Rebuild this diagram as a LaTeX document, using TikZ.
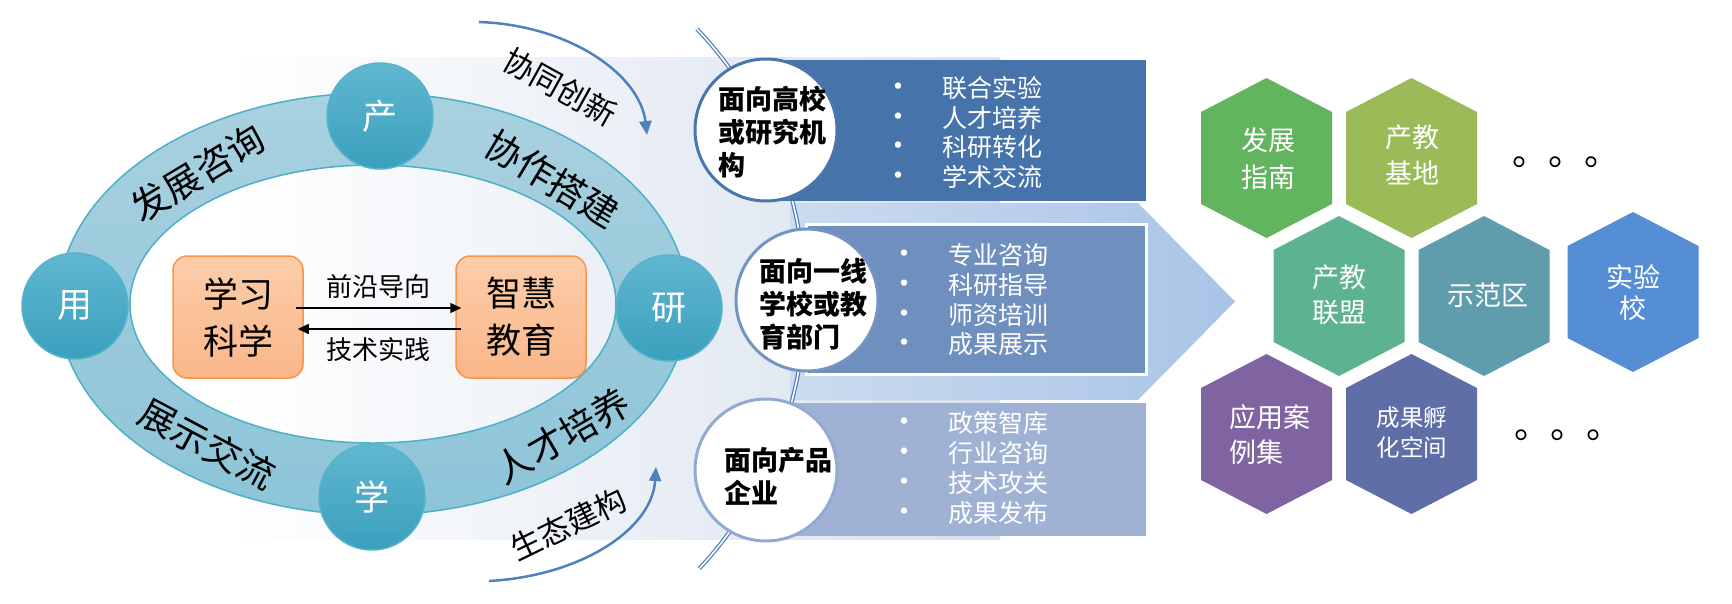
\documentclass[tikz,border=0pt]{standalone}
\usepackage{fontspec}
\setmainfont{Noto Sans CJK SC}
\usepackage{tikz}
\usetikzlibrary{arrows.meta}
\definecolor{ringtop}{HTML}{A9D1E0}
\definecolor{ringbot}{HTML}{8DC4D8}
\definecolor{ringline}{HTML}{4DAFC8}
\definecolor{nodetop}{HTML}{60B7CF}
\definecolor{nodebot}{HTML}{3AA0BE}
\definecolor{nodeline}{HTML}{58B2CB}
\definecolor{coretop}{HTML}{FCCDAA}
\definecolor{corebot}{HTML}{FAB689}
\definecolor{coreline}{HTML}{F79646}
\definecolor{panelright}{HTML}{D8E1EE}
\definecolor{chevleft}{HTML}{CCDBEF}
\definecolor{chevright}{HTML}{A9C4E7}
\definecolor{boxA}{HTML}{4673AA}
\definecolor{boxB}{HTML}{6F90BF}
\definecolor{boxC}{HTML}{9FB2D4}
\definecolor{orgA}{HTML}{4A76AB}
\definecolor{orgB}{HTML}{7494C4}
\definecolor{orgC}{HTML}{93A9D1}
\definecolor{spineblue}{HTML}{4F7CB5}
\definecolor{bendblue}{HTML}{4F81BD}
\definecolor{hexA}{HTML}{62B45E}
\definecolor{hexB}{HTML}{9BBB59}
\definecolor{hexC}{HTML}{5DB28F}
\definecolor{hexD}{HTML}{5F9DAC}
\definecolor{hexE}{HTML}{558ED5}
\definecolor{hexF}{HTML}{8064A2}
\definecolor{hexG}{HTML}{606EA8}
\newcommand{\fsz}[2]{\fontsize{#1}{#2}\selectfont}
\newcommand{\itm}{\llap{\makebox[0pt]{\fsz{30}{30}\textbullet}\hspace{44pt}}}
\newcommand{\hexcell}[3]{\fill[#1] (#2,#3) ++(0,-80) -- ++(65.5,34) -- ++(0,92) -- ++(-65.5,34) -- ++(-65.5,-34) -- ++(0,-92) -- cycle}

\begin{document}
\begin{tikzpicture}[x=1pt,y=-1pt]
\tikzset{ring label/.style={font=\fsz{37}{37}, inner sep=0}}
\tikzstyle{node circle} = [circle, minimum size=106pt, inner sep=0, top color=nodetop, bottom color=nodebot, draw=nodeline, line width=1.5pt, text=white, font=\fsz{35}{35}]
\tikzstyle{core box} = [rectangle, rounded corners=14pt, minimum width=130pt, minimum height=122pt, top color=coretop, bottom color=corebot, draw=coreline, line width=1.5pt, align=center, font=\fsz{35}{47}]
\tikzstyle{flow} = [-{Triangle[length=11pt,width=10pt]}, line width=1.5pt]
\tikzstyle{flow label} = [font=\fsz{26}{26}, inner sep=0]
\tikzstyle{bend arrow} = [-{Triangle[length=14pt,width=12pt]}, line width=2.5pt, draw=bendblue]
\tikzstyle{bend label} = [font=\fsz{31}{31}, inner sep=0]
\tikzstyle{spine} = [draw=spineblue, line width=1.2pt, double=white, double distance=1.6pt]
\tikzstyle{org circle} = [circle, minimum size=142pt, inner sep=0, fill=white, line width=3pt]
\tikzstyle{org text} = [anchor=west, align=left, font=\bfseries\fsz{27}{33}, inner sep=0]
\tikzstyle{list text} = [anchor=west, align=left, text=white, font=\fsz{25}{29.7}, inner sep=0]
\tikzstyle{hex text} = [align=center, text=white, font=\fsz{27}{36}, inner sep=0]
\tikzstyle{dots text} = [anchor=base west, font=\fsz{36}{36}, inner sep=0]
\useasboundingbox (0,0) rectangle (1732,603);

\shade[left color=white, right color=panelright] (230,57) rectangle (1000,539);
\shade[left color=chevleft, right color=chevright] (790,203) -- (1138,203) -- (1235,301.5) -- (1138,400) -- (790,400) -- cycle;
\coordinate (sc) at (411,300);
\draw[spine] (sc) ++(-43.5:394) arc[start angle=-43.5, end angle=43, radius=394];

\fill[boxA] (766,60) rectangle (1146,201);
\draw[white, line width=3pt, fill=boxB] (806,224.5) rectangle (1146.5,374.5);
\fill[boxC] (766,403) rectangle (1146,536);

\node[org circle, draw=orgA] (o1) at (766,130) {};
\node[org circle, draw=orgB] (o2) at (807,300) {};
\node[org circle, draw=orgC] (o3) at (766,470) {};
\node[org text] (t1) at (718,132.5) {面向高校\\或研究机\\构};
\node[org text] (t2) at (759,304.5) {面向一线\\学校或教\\育部门};
\node[org text] (t3) at (724,476) {面向产品\\企业};

\node[list text] (l1) at (942,132.5) {\itm 联合实验\\\itm 人才培养\\\itm 科研转化\\\itm 学术交流};
\node[list text] (l2) at (948,300) {\itm 专业咨询\\\itm 科研指导\\\itm 师资培训\\\itm 成果展示};
\node[list text] (l3) at (948,468) {\itm 政策智库\\\itm 行业咨询\\\itm 技术攻关\\\itm 成果发布};

\shade[top color=ringtop, bottom color=ringbot, even odd rule] (373,304) ellipse[x radius=315, y radius=211] (373,304) ellipse[x radius=243, y radius=139];
\draw[ringline, line width=1.5pt] (373,304) ellipse[x radius=315, y radius=211];
\draw[ringline, line width=1.5pt] (373,304) ellipse[x radius=243, y radius=139];

\node[ring label, rotate=31] (r1) at (198,173) {发展咨询};
\node[ring label, rotate=-31] (r2) at (552,179) {协作搭建};
\node[ring label, rotate=-28] (r3) at (207,444) {展示交流};
\node[ring label, rotate=30] (r4) at (562,436) {人才培养};

\node[node circle] (chan) at (380,116) {产};
\node[node circle] (xue) at (372,497) {学};
\node[node circle] (yong) at (75,306) {用};
\node[node circle] (yan) at (669,308) {研};

\node[core box] (xx) at (238,317) {学习\\科学};
\node[core box] (zh) at (521,317) {智慧\\教育};
\draw[flow] ([xshift=-8pt,yshift=9pt]xx.east) -- ([xshift=6pt,yshift=9pt]zh.west);
\draw[flow] ([xshift=6pt,yshift=-12pt]zh.west) -- ([xshift=-6pt,yshift=-12pt]xx.east);
\node[flow label] (fa) at (378,287) {前沿导向};
\node[flow label] (fb) at (378,350) {技术实践};

\coordinate (ta) at (479,22);
\coordinate (tb) at (647,135);
\draw[bend arrow] (ta) .. controls (570,25) and (640,75) .. (tb);
\coordinate (ba) at (489,581);
\coordinate (bb) at (656,467);
\draw[bend arrow] (ba) .. controls (580,576) and (652,530) .. (bb);
\node[bend label, rotate=-29] (w1) at (560,87) {协同创新};
\node[bend label, rotate=26] (w2) at (568,524) {生态建构};

\hexcell{hexA}{1266.5}{158};
\hexcell{hexB}{1411.5}{158};
\hexcell{hexC}{1339}{296};
\hexcell{hexD}{1484}{296};
\hexcell{hexE}{1633}{292};
\hexcell{hexF}{1266.5}{434};
\hexcell{hexG}{1411.5}{434};
\node[hex text, font=\fsz{27}{37}] (h1) at (1268,158.5) {发展\\指南};
\node[hex text] (h2) at (1412,155) {产教\\基地};
\node[hex text, font=\fsz{27}{35}] (h3) at (1339,294.5) {产教\\联盟};
\node[hex text] (h4) at (1488,295) {示范区};
\node[hex text, font=\fsz{27}{31}] (h5) at (1633,292.5) {实验\\校};
\node[hex text, anchor=west, align=left, font=\fsz{27}{35}] (h6) at (1229,434.5) {应用案\\例集};
\node[hex text, font=\fsz{23.5}{30}] (h7) at (1412,433) {成果孵\\化空间};
\node[dots text] (d1) at (1512,165.6) {。。。};
\node[dots text] (d2) at (1514,438.6) {。。。};
\end{tikzpicture}
\end{document}
